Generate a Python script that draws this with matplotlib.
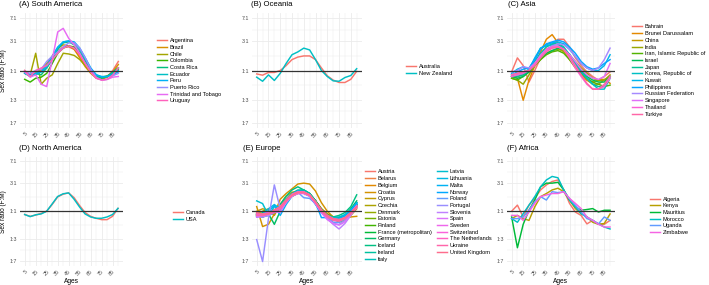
import numpy as np
import matplotlib
matplotlib.use("Agg")
import matplotlib.pyplot as plt

plt.rcParams['font.family'] = ['Liberation Sans', 'DejaVu Sans']

ages = [5, 10, 15, 20, 25, 30, 35, 40, 45, 50, 55, 60, 65, 70, 75, 80, 85, 90]
x_breaks = [5, 15, 25, 35, 45, 55, 65, 75, 85]
y_breaks = [7, 3, 1, 1/3, 1/7]
y_labels = ["7:1", "3:1", "1:1", "1:3", "1:7"]

# sex ratio F:M by age group
south_america = {
    "Argentina": [1.0, 0.85, 0.95, 1.0, 1.2, 1.6, 2.1, 2.4, 2.4, 2.2, 1.7, 1.25, 0.95, 0.8, 0.75, 0.8, 1.0, 1.4],
    "Brazil": [0.95, 0.8, 0.9, 1.05, 1.3, 1.7, 2.3, 2.6, 2.5, 2.2, 1.6, 1.15, 0.9, 0.75, 0.72, 0.78, 0.95, 1.25],
    "Chile": [0.9, 0.85, 1.9, 0.6, 0.75, 0.85, 1.3, 1.9, 1.85, 1.75, 1.5, 1.2, 0.95, 0.8, 0.75, 0.8, 0.9, 1.1],
    "Colombia": [0.72, 0.65, 0.75, 0.78, 0.9, 1.3, 1.9, 2.3, 2.5, 2.4, 1.9, 1.35, 1.0, 0.82, 0.78, 0.82, 0.9, 1.05],
    "Costa Rica": [0.9, 0.8, 0.9, 0.85, 1.1, 1.5, 2.2, 2.8, 2.9, 2.6, 2.0, 1.4, 1.0, 0.8, 0.75, 0.8, 0.95, 1.1],
    "Ecuador": [0.95, 0.85, 0.85, 0.95, 1.1, 1.6, 2.3, 2.9, 3.0, 2.8, 2.2, 1.5, 1.05, 0.85, 0.78, 0.8, 0.9, 1.0],
    "Peru": [0.9, 0.85, 0.9, 0.95, 1.2, 1.7, 2.4, 2.9, 3.0, 2.9, 2.3, 1.6, 1.1, 0.85, 0.8, 0.8, 0.85, 0.95],
    "Puerto Rico": [0.95, 0.9, 1.0, 1.05, 1.4, 1.7, 2.0, 2.4, 2.8, 2.8, 2.3, 1.6, 1.05, 0.78, 0.7, 0.72, 0.82, 0.9],
    "Trinidad and Tobago": [0.95, 0.78, 0.85, 0.6, 0.55, 1.5, 4.2, 4.8, 3.3, 2.6, 1.9, 1.3, 0.95, 0.75, 0.7, 0.72, 0.78, 0.8],
    "Uruguay": [1.0, 0.8, 1.0, 1.1, 1.2, 1.5, 1.9, 2.3, 2.5, 2.3, 1.8, 1.3, 0.95, 0.75, 0.7, 0.72, 0.85, 1.1],
}

oceania = {
    "Australia": [0.88, 0.84, 0.93, 0.93, 1.0, 1.2, 1.5, 1.65, 1.72, 1.72, 1.5, 1.1, 0.82, 0.7, 0.64, 0.64, 0.72, 0.97],
    "New Zealand": [0.78, 0.67, 0.85, 0.69, 0.9, 1.3, 1.8, 2.0, 2.3, 2.15, 1.5, 1.0, 0.8, 0.68, 0.67, 0.77, 0.83, 1.07],
}

asia = {
    "Bahrain": [0.95, 1.6, 1.2, 0.65, 1.0, 1.6, 2.2, 2.5, 3.2, 3.2, 2.4, 1.6, 1.2, 0.95, 0.8, 0.7, 0.8, 0.95],
    "Brunei Darussalam": [0.8, 0.75, 0.33, 0.7, 1.2, 2.0, 3.2, 3.8, 2.8, 2.1, 1.5, 1.1, 0.85, 0.7, 0.65, 0.7, 0.72, 0.62],
    "China": [0.8, 0.8, 0.85, 0.95, 1.3, 1.8, 2.2, 2.4, 2.3, 2.0, 1.6, 1.2, 0.9, 0.7, 0.6, 0.6, 0.7, 0.85],
    "India": [0.75, 0.7, 0.6, 0.85, 1.2, 1.5, 1.9, 2.1, 2.2, 2.1, 1.8, 1.4, 1.1, 0.9, 0.75, 0.68, 0.7, 0.8],
    "Iran, Islamic Republic of": [0.75, 0.7, 0.8, 0.95, 1.2, 1.5, 1.8, 2.0, 2.1, 1.9, 1.5, 1.15, 0.9, 0.75, 0.65, 0.6, 0.55, 0.58],
    "Israel": [0.8, 0.75, 0.8, 0.95, 1.3, 1.6, 1.9, 2.1, 2.3, 2.2, 1.8, 1.3, 1.0, 0.8, 0.7, 0.65, 0.65, 0.8],
    "Japan": [0.85, 0.8, 0.85, 1.0, 1.4, 1.9, 2.4, 2.7, 2.8, 2.4, 1.8, 1.3, 0.95, 0.75, 0.6, 0.55, 0.55, 0.8],
    "Korea, Republic of": [0.8, 0.85, 0.9, 1.05, 1.5, 2.3, 2.5, 2.6, 2.6, 2.3, 1.8, 1.3, 0.95, 0.75, 0.6, 0.5, 0.5, 0.75],
    "Kuwait": [0.9, 1.05, 1.15, 1.05, 1.6, 2.3, 2.6, 2.8, 2.9, 2.7, 2.2, 1.7, 1.3, 1.1, 1.0, 1.0, 1.2, 1.8],
    "Philippines": [0.85, 0.95, 1.05, 1.1, 1.5, 2.2, 2.7, 2.9, 3.1, 2.9, 2.4, 1.9, 1.4, 1.15, 1.05, 1.1, 1.3, 1.5],
    "Russian Federation": [0.95, 1.0, 1.15, 1.1, 1.3, 1.8, 2.2, 2.5, 2.7, 2.6, 2.2, 1.7, 1.3, 1.1, 1.0, 1.1, 1.5, 2.3],
    "Singapore": [0.85, 0.9, 0.95, 1.0, 1.3, 1.7, 2.1, 2.3, 2.4, 2.2, 1.8, 1.4, 1.05, 0.85, 0.75, 0.72, 0.8, 1.3],
    "Thailand": [0.8, 0.85, 0.9, 1.0, 1.3, 1.7, 2.2, 2.4, 2.5, 2.2, 1.6, 1.1, 0.8, 0.6, 0.5, 0.5, 0.55, 0.75],
    "Turkiye": [0.85, 0.9, 0.95, 1.0, 1.2, 1.6, 2.0, 2.3, 2.4, 2.2, 1.7, 1.2, 0.85, 0.62, 0.5, 0.5, 0.6, 0.8],
}

north_america = {
    "Canada": [0.88, 0.82, 0.86, 0.92, 1.0, 1.3, 1.75, 1.95, 2.05, 1.7, 1.25, 0.95, 0.82, 0.76, 0.72, 0.72, 0.82, 1.12],
    "USA": [0.88, 0.81, 0.87, 0.9, 1.0, 1.33, 1.78, 1.98, 2.05, 1.6, 1.18, 0.9, 0.8, 0.76, 0.76, 0.8, 0.88, 1.12],
}

europe = {
    "Austria": [0.9, 0.85, 0.95, 1.0, 1.15, 1.5, 1.9, 2.1, 2.1, 1.85, 1.4, 1.05, 0.85, 0.75, 0.72, 0.8, 1.0, 1.3],
    "Belarus": [0.85, 0.8, 0.9, 1.0, 1.2, 1.6, 2.0, 2.2, 2.2, 1.9, 1.45, 1.05, 0.85, 0.75, 0.75, 0.8, 0.95, 1.2],
    "Belgium": [0.95, 0.9, 0.95, 1.05, 1.25, 1.6, 1.95, 2.2, 2.2, 1.95, 1.5, 1.1, 0.9, 0.8, 0.75, 0.8, 0.95, 1.25],
    "Croatia": [1.2, 0.55, 0.6, 0.9, 1.6, 2.0, 2.4, 2.9, 3.0, 2.9, 2.2, 1.4, 1.0, 0.8, 0.7, 0.75, 0.8, 0.82],
    "Cyprus": [1.0, 1.1, 1.05, 0.85, 1.3, 1.8, 2.1, 2.2, 2.1, 1.9, 1.5, 1.1, 0.85, 0.75, 0.65, 0.7, 0.85, 1.1],
    "Czechia": [0.85, 0.85, 0.9, 1.0, 1.2, 1.6, 2.0, 2.2, 2.1, 1.85, 1.4, 1.0, 0.82, 0.75, 0.72, 0.78, 0.95, 1.3],
    "Denmark": [0.9, 1.0, 1.1, 0.95, 1.1, 1.5, 1.9, 2.2, 2.2, 1.95, 1.5, 1.1, 0.9, 0.8, 0.78, 0.82, 1.0, 1.3],
    "Estonia": [0.85, 0.85, 0.95, 1.0, 1.15, 1.5, 1.8, 2.0, 2.1, 1.9, 1.4, 1.0, 0.82, 0.72, 0.7, 0.78, 0.95, 1.25],
    "Finland": [0.9, 0.85, 0.9, 0.95, 1.1, 1.45, 1.8, 2.1, 2.2, 2.0, 1.5, 1.05, 0.85, 0.75, 0.72, 0.8, 1.0, 1.4],
    "France (metropolitan)": [0.9, 0.85, 0.9, 1.0, 1.2, 1.55, 1.9, 2.1, 2.1, 1.9, 1.45, 1.05, 0.85, 0.78, 0.75, 0.8, 0.95, 1.2],
    "Germany": [0.9, 0.85, 0.9, 0.6, 1.0, 1.5, 1.9, 2.2, 2.3, 2.0, 1.5, 1.05, 0.85, 0.78, 0.78, 0.85, 1.1, 1.5],
    "Iceland": [0.8, 0.95, 0.85, 0.95, 1.3, 1.8, 2.3, 2.6, 2.3, 2.0, 1.5, 1.0, 0.85, 0.8, 0.85, 0.95, 1.2, 1.9],
    "Ireland": [0.85, 0.8, 0.9, 1.05, 1.2, 1.6, 2.0, 2.3, 2.3, 2.0, 1.5, 1.05, 0.85, 0.75, 0.72, 0.8, 1.0, 1.4],
    "Italy": [0.85, 0.8, 0.85, 0.95, 1.15, 1.5, 1.95, 2.2, 2.2, 1.9, 1.4, 1.0, 0.8, 0.72, 0.7, 0.78, 0.95, 1.3],
    "Latvia": [1.5, 1.35, 0.85, 1.2, 1.1, 1.5, 1.9, 2.1, 2.1, 1.9, 1.4, 1.05, 0.85, 0.78, 0.8, 0.88, 1.05, 1.35],
    "Lithuania": [0.85, 0.9, 1.1, 1.3, 1.1, 1.5, 1.9, 2.1, 2.1, 1.85, 1.35, 1.0, 0.8, 0.72, 0.72, 0.8, 0.98, 1.3],
    "Malta": [0.8, 0.85, 1.0, 1.25, 0.85, 1.3, 1.8, 2.2, 2.0, 1.8, 1.3, 0.95, 0.8, 0.75, 0.75, 0.85, 1.05, 1.4],
    "Norway": [0.85, 0.85, 0.9, 1.0, 1.2, 1.55, 1.95, 2.2, 2.15, 1.9, 1.4, 0.78, 0.78, 0.7, 0.7, 0.8, 1.0, 1.35],
    "Poland": [0.9, 0.9, 0.95, 1.05, 1.2, 1.55, 1.9, 2.1, 1.7, 1.65, 1.35, 1.0, 0.78, 0.65, 0.65, 0.75, 0.9, 1.15],
    "Portugal": [0.33, 0.14, 0.75, 2.8, 1.1, 1.4, 1.8, 2.0, 2.05, 1.85, 1.35, 0.95, 0.75, 0.62, 0.6, 0.7, 0.9, 1.2],
    "Slovenia": [0.8, 0.8, 0.85, 0.95, 1.0, 1.4, 1.85, 2.05, 2.1, 1.9, 1.4, 0.95, 0.75, 0.6, 0.5, 0.62, 0.85, 1.2],
    "Spain": [0.8, 0.85, 0.9, 1.0, 0.95, 1.45, 1.9, 2.1, 2.1, 1.85, 1.35, 0.95, 0.72, 0.62, 0.58, 0.66, 0.9, 1.2],
    "Sweden": [0.85, 0.85, 0.9, 1.0, 1.2, 1.5, 1.8, 2.0, 2.0, 1.8, 1.35, 1.0, 0.8, 0.72, 0.7, 0.78, 0.95, 1.25],
    "Switzerland": [0.9, 0.9, 0.95, 1.0, 1.15, 1.5, 1.9, 2.1, 2.1, 1.9, 1.45, 1.05, 0.85, 0.75, 0.72, 0.78, 0.92, 1.2],
    "The Netherlands": [0.9, 0.85, 0.92, 1.0, 1.2, 1.55, 1.95, 2.15, 2.15, 1.9, 1.4, 1.0, 0.8, 0.72, 0.7, 0.76, 0.92, 1.15],
    "Ukraine": [0.85, 0.85, 0.9, 0.95, 1.1, 1.45, 1.85, 2.05, 2.05, 1.85, 1.4, 1.0, 0.8, 0.7, 0.68, 0.75, 0.9, 1.15],
    "United Kingdom": [0.95, 0.9, 0.9, 1.05, 1.2, 1.55, 1.9, 2.1, 2.1, 1.9, 1.45, 1.05, 0.85, 0.75, 0.72, 0.78, 0.95, 1.2],
}

africa = {
    "Algeria": [1.0, 1.27, 0.8, 1.27, 1.65, 2.3, 2.8, 3.2, 3.4, 2.3, 1.36, 0.97, 0.85, 0.61, 0.7, 0.6, 0.6, 0.7],
    "Kenya": [0.75, 0.85, 0.75, 0.7, 1.19, 1.77, 2.0, 2.3, 2.46, 2.15, 1.55, 1.11, 0.91, 0.8, 0.65, 0.6, 0.62, 0.9],
    "Mauritius": [0.8, 0.24, 0.6, 1.04, 1.55, 2.6, 3.0, 3.0, 3.1, 2.3, 1.55, 1.19, 1.04, 1.07, 1.11, 0.97, 1.04, 1.04],
    "Morocco": [0.75, 0.65, 0.91, 1.27, 1.77, 2.6, 3.4, 3.9, 3.7, 2.3, 1.55, 1.19, 0.91, 0.8, 0.7, 0.61, 0.54, 0.5],
    "Uganda": [0.75, 0.75, 0.8, 1.04, 1.45, 1.77, 1.55, 2.15, 2.07, 2.15, 1.65, 1.27, 0.97, 0.75, 0.7, 0.61, 0.8, 0.7],
    "Zimbabwe": [0.85, 0.85, 0.7, 0.97, 1.36, 1.77, 1.89, 2.0, 2.0, 2.15, 1.65, 1.36, 1.11, 0.8, 0.7, 0.6, 0.54, 0.54],
}


def hue_pal(n, l=65, c=100, h0=15):
    # ggplot2 default discrete palette (HCL hues)
    Xn, Yn, Zn = 95.047, 100.0, 108.883
    den = Xn + 15 * Yn + 3 * Zn
    un, vn = 4 * Xn / den, 9 * Yn / den
    M = np.array([[3.240479, -1.537150, -0.498535],
                  [-0.969256, 1.875992, 0.041556],
                  [0.055648, -0.204043, 1.057311]])
    cols = []
    for h in np.linspace(h0, h0 + 360, n + 1)[:n]:
        u = c * np.cos(np.deg2rad(h))
        v = c * np.sin(np.deg2rad(h))
        Y = Yn * ((l + 16) / 116) ** 3
        up = u / (13 * l) + un
        vp = v / (13 * l) + vn
        X = 9 * Y * up / (4 * vp)
        Z = Y * (12 - 3 * up - 20 * vp) / (4 * vp)
        rgb = M @ (np.array([X, Y, Z]) / 100)
        rgb = np.where(rgb > 0.0031308, 1.055 * np.abs(rgb) ** (1 / 2.4) - 0.055, 12.92 * rgb)
        cols.append(tuple(np.clip(rgb, 0, 1)))
    return cols


W, H = 709, 285
fig = plt.figure(figsize=(W / 100, H / 100), dpi=100)

# panel boxes in pixels: left, right, top, bottom
panels = [
    ("(A) South America", south_america, (20, 123, 13, 128), (157, 70.8), 1, 19, 5),
    ("(B) Oceania", oceania, (251.7, 361.7, 13, 128), (406, 70), 1, 251, 5),
    ("(C) Asia", asia, (506.7, 615, 13, 128), (632, 70.5), 1, 508, 5),
    ("(D) North America", north_america, (20, 122.7, 156.5, 266), (173, 215.7), 1, 19, 149),
    ("(E) Europe", europe, (251.7, 361.7, 156.5, 266), (365, 215.5), 2, 243, 149),
    ("(F) Africa", africa, (506.7, 615, 156.5, 266), (650, 215.8), 1, 507, 149),
]

ext = np.exp(0.05 * np.log(49))
for i, (title, data, box, leg_pos, ncol, tx, ty) in enumerate(panels):
    l, r, t, b = box
    ax = fig.add_axes([l / W, 1 - b / H, (r - l) / W, (b - t) / H])
    cols = hue_pal(len(data))
    for (name, vals), col in zip(data.items(), cols):
        ax.plot(ages, vals, color=col, lw=1.05, label=name, solid_joinstyle='round')
    ax.axhline(1, color='#333333', lw=0.9, zorder=5)
    ax.set_yscale('log')
    ax.set_ylim(1 / 7 / ext, 7 * ext)
    ax.set_xlim(0.75, 94.25)
    ax.set_yticks(y_breaks)
    ax.set_yticklabels(y_labels)
    ax.set_yticks([np.sqrt(21), np.sqrt(3), 1 / np.sqrt(3), 1 / np.sqrt(21)], minor=True)
    ax.yaxis.set_minor_formatter(matplotlib.ticker.NullFormatter())
    ax.set_xticks(x_breaks)
    ax.set_xticklabels([str(a) for a in x_breaks], rotation=45, ha='right',
                       rotation_mode='anchor')
    ax.set_xticks(range(10, 95, 10), minor=True)
    ax.grid(True, which='major', color='#EBEBEB', lw=0.6)
    ax.grid(True, which='minor', color='#EBEBEB', lw=0.35)
    ax.set_axisbelow(True)
    ax.tick_params(which='both', length=0, labelsize=3.8, labelcolor='#4D4D4D', pad=2)
    for s in ax.spines.values():
        s.set_visible(False)
    if i % 3 == 0:
        ax.set_ylabel("Sex ratio (F:M)", fontsize=4.7, labelpad=2)
    if i >= 3:
        ax.set_xlabel("Ages", fontsize=4.8, labelpad=1)
    fig.text(tx / W, 1 - ty / H, title, fontsize=5.6, va='center', ha='left')
    fig.legend(*ax.get_legend_handles_labels(), loc='center left',
               bbox_to_anchor=(leg_pos[0] / W, 1 - leg_pos[1] / H),
               frameon=False, fontsize=4.1, ncol=ncol, handlelength=1.7,
               handletextpad=0.5, labelspacing=0.3, borderpad=0, borderaxespad=0,
               columnspacing=1.0)

fig.savefig("out.png", dpi=100)
